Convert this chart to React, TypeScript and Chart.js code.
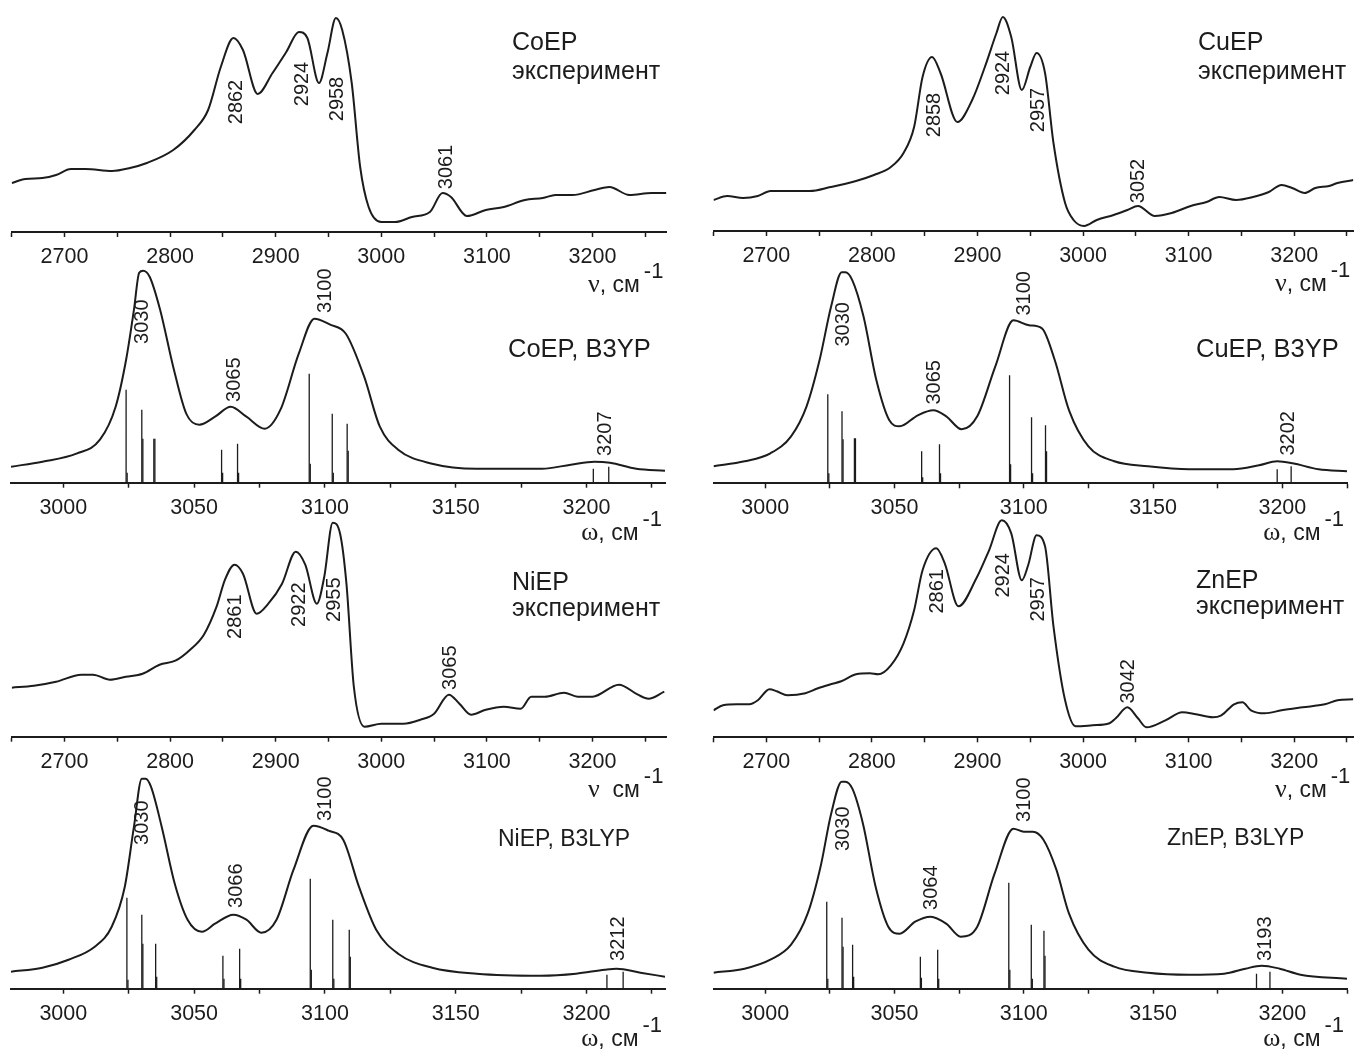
import React, { useEffect, useRef } from 'react';
import { Chart, registerables } from 'chart.js';

Chart.register(...registerables);

const SANS = '"Liberation Sans", Arial, Helvetica, sans-serif';
const SERIF = '"Liberation Serif", "Times New Roman", serif';
const INK = '#1c1c1c';

// ---------------- Experimental spectra (wavenumber, intensity a.u.) ----------------
const coExpX = [2650, 2663, 2679, 2692, 2706, 2720, 2745, 2762, 2778, 2803, 2823, 2836, 2848, 2860, 2869, 2883, 2897, 2910, 2922, 2930, 2941, 2949, 2957, 2963, 2972, 2980, 2988, 3000, 3013, 3029, 3046, 3058, 3066, 3081, 3099, 3116, 3136, 3153, 3165, 3181, 3202, 3216, 3235, 3256, 3270];
const coExpY = [49, 53, 54, 57, 63, 63, 61, 64, 69, 82, 102, 122, 165, 194, 182, 138, 159, 180, 200, 194, 149, 179, 214, 202, 149, 65, 25, 10, 10, 15, 20, 39, 35, 16, 22, 25, 32, 34, 37, 37, 42, 45, 37, 39, 39];
const coExpPeaks = [2862, 2924, 2958, 3061];

const cuExpX = [2650, 2663, 2678, 2692, 2704, 2720, 2741, 2761, 2785, 2802, 2818, 2830, 2840, 2848, 2857, 2865, 2881, 2895, 2907, 2918, 2924, 2932, 2942, 2950, 2956, 2964, 2972, 2983, 2991, 3001, 3013, 3029, 3042, 3052, 3068, 3084, 3102, 3117, 3129, 3145, 3161, 3176, 3188, 3198, 3210, 3220, 3233, 3241, 3256];
const cuExpY = [31, 35, 33, 35, 40, 40, 40, 44, 50, 56, 64, 78, 104, 154, 174, 158, 109, 131, 164, 198, 214, 194, 141, 164, 178, 158, 88, 28, 11, 5, 11, 16, 21, 25, 15, 18, 25, 29, 34, 31, 34, 39, 46, 43, 38, 43, 45, 48, 51];
const cuExpPeaks = [2858, 2924, 2957, 3052];

const niExpX = [2650, 2671, 2692, 2716, 2727, 2743, 2758, 2774, 2790, 2805, 2819, 2832, 2844, 2852, 2861, 2869, 2882, 2893, 2906, 2919, 2928, 2939, 2946, 2954, 2961, 2967, 2974, 2984, 3000, 3021, 3037, 3050, 3064, 3074, 3085, 3099, 3116, 3132, 3142, 3155, 3173, 3186, 3200, 3225, 3243, 3253, 3268];
const niExpY = [49, 51, 55, 62, 62, 57, 60, 63, 72, 76, 87, 102, 130, 157, 172, 163, 123, 133, 153, 185, 172, 133, 160, 214, 203, 153, 50, 10, 13, 13, 17, 23, 42, 33, 22, 27, 30, 28, 40, 40, 44, 40, 40, 52, 42, 38, 45];
const niExpPeaks = [2861, 2922, 2955, 3065];

const znExpX = [2650, 2659, 2672, 2684, 2692, 2703, 2710, 2720, 2737, 2749, 2761, 2771, 2785, 2798, 2806, 2818, 2830, 2840, 2848, 2861, 2869, 2882, 2899, 2911, 2923, 2932, 2942, 2948, 2956, 2964, 2972, 2983, 2993, 3009, 3025, 3031, 3042, 3052, 3060, 3078, 3094, 3107, 3123, 3131, 3143, 3151, 3159, 3172, 3188, 3208, 3229, 3241, 3256];
const znExpY = [27, 32, 33, 33, 37, 48, 46, 42, 44, 49, 53, 56, 63, 64, 63, 72, 94, 127, 167, 189, 174, 131, 159, 187, 217, 204, 157, 172, 202, 191, 111, 37, 11, 12, 14, 19, 30, 19, 10, 17, 25, 23, 20, 22, 33, 35, 27, 24, 27, 30, 33, 37, 38];
const znExpPeaks = [2861, 2924, 2957, 3042];

// ---------------- Calculated spectra (B3LYP) ----------------
const coCalcX = [2980, 2992, 3005, 3014, 3020, 3024, 3027, 3029, 3030.5, 3033, 3037, 3042, 3047, 3052, 3058, 3064, 3070, 3077, 3083, 3090, 3096, 3102, 3108, 3115, 3121, 3128, 3141, 3158, 3183, 3194, 3203, 3209, 3219, 3230];
const coCalcY = [16, 21, 29, 43, 76, 123, 173, 210, 212, 206, 173, 116, 69, 58, 66, 76, 66, 54, 73, 129, 164, 158, 149, 106, 56, 33, 19, 14, 14, 18, 21, 20, 14, 12];
const coStickX = [3024, 3030, 3034.6, 3060.5, 3066.6, 3094, 3102.8, 3108.5, 3202.6, 3208.5];
const coStickY = [93, 73, 44, 33, 39, 109, 69, 59, 14, 16];
const coStick2X = [3024.4, 3030.4, 3035, 3060.9, 3067, 3094.4, 3103.2, 3108.9];
const coStick2Y = [10, 44, 44, 10, 10, 19, 10, 32];
const coCalcPeaks = [3030, 3065, 3100, 3207];

const cuCalcX = [2980, 2992, 3002, 3010, 3016, 3021, 3025.5, 3029.6, 3031, 3033.7, 3038, 3043, 3048, 3052, 3059, 3065, 3070, 3076, 3082, 3089, 3096, 3102, 3107, 3112, 3117.5, 3125, 3135, 3148, 3164, 3181, 3191, 3198, 3204, 3214, 3225];
const cuCalcY = [17, 22, 30, 47, 77, 123, 177, 211, 211, 203, 167, 103, 63, 57, 68, 73, 67, 54, 67, 117, 163, 158, 155, 123, 73, 37, 22, 17, 14, 14, 18, 22, 20, 14, 12];
const cuStickX = [3024.2, 3029.7, 3034.5, 3060.5, 3067.4, 3094.5, 3103, 3108.4, 3198, 3203.4];
const cuStickY = [89, 72, 45, 32, 39, 108, 66, 58, 14, 17];
const cuStick2X = [3024.6, 3030.1, 3034.9, 3060.9, 3067.8, 3094.9, 3103.4, 3108.8];
const cuStick2Y = [10, 44, 45, 6, 10, 19, 10, 32];
const cuCalcPeaks = [3030, 3065, 3100, 3202];

const niCalcX = [2980, 2992, 3002, 3012, 3018.5, 3023.5, 3027, 3030, 3031.5, 3033.5, 3037.6, 3042.6, 3047.5, 3053, 3058, 3065, 3070, 3075.7, 3081.5, 3088, 3095.6, 3101.4, 3107, 3113, 3119.6, 3128, 3141, 3158, 3182.5, 3196, 3207, 3211.5, 3220.6, 3230];
const niCalcY = [17, 21, 29, 42, 62, 102, 162, 210, 210, 202, 162, 105, 69, 57, 65, 74, 69, 56, 69, 119, 163, 158, 149, 102, 59, 35, 21, 15, 13, 15, 19, 20, 16, 12];
const niStickX = [3024.3, 3030, 3035.3, 3061, 3067.4, 3094.4, 3103, 3109.3, 3207.8, 3214];
const niStickY = [91, 74, 45, 33, 40, 110, 69, 59, 14, 17];
const niStick2X = [3024.7, 3030.4, 3035.7, 3061.4, 3067.8, 3094.8, 3103.4, 3109.7];
const niStick2Y = [9, 45, 12, 10, 10, 19, 10, 32];
const niCalcPeaks = [3030, 3066, 3100, 3212];

const znCalcX = [2980, 2992, 3002, 3010, 3016.4, 3021.4, 3025.5, 3029.6, 3031, 3033.7, 3037.8, 3042.7, 3047.6, 3052, 3058, 3064, 3070, 3075.6, 3082, 3088.7, 3096, 3100, 3103.5, 3107.6, 3112.6, 3117.5, 3125, 3135, 3148, 3164, 3177.5, 3185.7, 3192, 3199, 3207, 3225];
const znCalcY = [16, 20, 29, 44, 75, 122, 175, 207, 207, 200, 165, 102, 62, 55, 67, 72, 65, 52, 62, 115, 160, 157, 157, 149, 119, 75, 39, 22, 16, 14, 15, 20, 23, 20, 14, 10];
const znStickX = [3023.8, 3029.7, 3033.8, 3060, 3066.7, 3094.2, 3102.9, 3107.8, 3190, 3195.2];
const znStickY = [87, 71, 44, 32, 39, 106, 64, 58, 15, 17];
const znStick2X = [3024.2, 3030.1, 3034.2, 3060.4, 3067.1, 3094.6, 3103.3, 3108.2];
const znStick2Y = [10, 42, 12, 11, 10, 19, 10, 33];
const znCalcPeaks = [3030, 3064, 3100, 3193];

// ---------------- Panel layout ----------------
type Title = { text: string; x: number; y: number; size: number };
type Panel = {
  key: string; left: number; top: number; width: number; height: number;
  axisY: number; padL: number; padR: number;
  xMin: number; xMax: number; tickStep: number; labelStep: number;
  curveX: number[]; curveY: number[];
  stickX?: number[]; stickY?: number[];
  stick2X?: number[]; stick2Y?: number[];
  peaks: number[]; peakLabelY: number[];
  titles: Title[];
  axisSym: string; axisSep: string; axisDy: number;
};

const PANELS: Panel[] = [
  {
    key: 'co-exp', left: 0, top: 0, width: 680, height: 300, axisY: 232, padL: 11.7, padR: 13.6,
    xMin: 2650, xMax: 3270, tickStep: 50, labelStep: 100,
    curveX: coExpX, curveY: coExpY, peaks: coExpPeaks, peakLabelY: [130, 148, 133, 65],
    titles: [{ text: 'CoEP', x: 512, y: 50, size: 25 }, { text: 'эксперимент', x: 512, y: 79, size: 25 }],
    axisSym: 'ν', axisSep: ', см', axisDy: 60,
  },
  {
    key: 'co-calc', left: 0, top: 255, width: 680, height: 290, axisY: 227.7, padL: 11, padR: 15,
    xMin: 2980, xMax: 3230, tickStep: 25, labelStep: 50,
    curveX: coCalcX, curveY: coCalcY, stickX: coStickX, stickY: coStickY, stick2X: coStick2X, stick2Y: coStick2Y,
    peaks: coCalcPeaks, peakLabelY: [161, 103, 192, 49],
    titles: [{ text: 'CoEP, B3YP', x: 508, y: 102, size: 25.5 }],
    axisSym: 'ω', axisSep: ', см', axisDy: 57,
  },
  {
    key: 'ni-exp', left: 0, top: 500, width: 680, height: 305, axisY: 236.7, padL: 11.7, padR: 13.6,
    xMin: 2650, xMax: 3270, tickStep: 50, labelStep: 100,
    curveX: niExpX, curveY: niExpY, peaks: niExpPeaks, peakLabelY: [120, 132, 137, 69],
    titles: [{ text: 'NiEP', x: 512, y: 90, size: 25 }, { text: 'эксперимент', x: 512, y: 116, size: 25 }],
    axisSym: 'ν', axisSep: '  см', axisDy: 60,
  },
  {
    key: 'ni-calc', left: 0, top: 760, width: 680, height: 290, axisY: 228.7, padL: 11, padR: 15,
    xMin: 2980, xMax: 3230, tickStep: 25, labelStep: 50,
    curveX: niCalcX, curveY: niCalcY, stickX: niStickX, stickY: niStickY, stick2X: niStick2X, stick2Y: niStick2Y,
    peaks: niCalcPeaks, peakLabelY: [166, 103, 190, 50],
    titles: [{ text: 'NiEP, B3LYP', x: 498, y: 86, size: 23 }],
    axisSym: 'ω', axisSep: ', см', axisDy: 57,
  },
  {
    key: 'cu-exp', left: 680, top: 0, width: 674, height: 300, axisY: 231, padL: 33.5, padR: 0,
    xMin: 2650, xMax: 3256, tickStep: 50, labelStep: 100,
    curveX: cuExpX, curveY: cuExpY, peaks: cuExpPeaks, peakLabelY: [116, 158, 121, 50],
    titles: [{ text: 'CuEP', x: 518, y: 50, size: 25 }, { text: 'эксперимент', x: 518, y: 79, size: 25 }],
    axisSym: 'ν', axisSep: ', см', axisDy: 60,
  },
  {
    key: 'cu-calc', left: 680, top: 255, width: 674, height: 290, axisY: 228.3, padL: 33.5, padR: 0,
    xMin: 2980, xMax: 3225, tickStep: 25, labelStep: 50,
    curveX: cuCalcX, curveY: cuCalcY, stickX: cuStickX, stickY: cuStickY, stick2X: cuStick2X, stick2Y: cuStick2Y,
    peaks: cuCalcPeaks, peakLabelY: [159, 101, 190, 50],
    titles: [{ text: 'CuEP, B3YP', x: 516, y: 102, size: 25.5 }],
    axisSym: 'ω', axisSep: ', см', axisDy: 57,
  },
  {
    key: 'zn-exp', left: 680, top: 500, width: 674, height: 305, axisY: 237.3, padL: 33.5, padR: 0,
    xMin: 2650, xMax: 3256, tickStep: 50, labelStep: 100,
    curveX: znExpX, curveY: znExpY, peaks: znExpPeaks, peakLabelY: [146, 162, 138, 56],
    titles: [{ text: 'ZnEP', x: 516, y: 88, size: 25 }, { text: 'эксперимент', x: 516, y: 114, size: 25 }],
    axisSym: 'ν', axisSep: ', см', axisDy: 60,
  },
  {
    key: 'zn-calc', left: 680, top: 760, width: 674, height: 290, axisY: 228.7, padL: 33.5, padR: 0,
    xMin: 2980, xMax: 3225, tickStep: 25, labelStep: 50,
    curveX: znCalcX, curveY: znCalcY, stickX: znStickX, stickY: znStickY, stick2X: znStick2X, stick2Y: znStick2Y,
    peaks: znCalcPeaks, peakLabelY: [160, 101, 189, 50],
    titles: [{ text: 'ZnEP, B3LYP', x: 487, y: 85, size: 23 }],
    axisSym: 'ω', axisSep: ', см', axisDy: 57,
  },
];

function makeTicks(min: number, max: number, step: number) {
  const t: { value: number }[] = [];
  for (let v = Math.ceil(min / step) * step; v <= max + 1e-6; v += step) t.push({ value: v });
  return t;
}

function stickData(xs: number[], ys: number[]) {
  return xs.flatMap((x, i) => [{ x, y: 0 }, { x, y: ys[i] }, { x, y: null }]);
}

function ChartPanel({ p }: { p: Panel }) {
  const ref = useRef<HTMLCanvasElement>(null);
  useEffect(() => {
    const canvas = ref.current;
    if (!canvas) return;
    const datasets: any[] = [
      {
        type: 'line',
        data: p.curveX.map((x, i) => ({ x, y: p.curveY[i] })),
        borderColor: INK,
        borderWidth: 2,
        pointRadius: 0,
        cubicInterpolationMode: 'monotone',
        fill: false,
      },
    ];
    if (p.stickX && p.stickY) {
      datasets.push({
        type: 'line',
        data: stickData(p.stickX, p.stickY),
        borderColor: INK,
        borderWidth: 1.3,
        pointRadius: 0,
        tension: 0,
        spanGaps: false,
        fill: false,
      });
    }
    if (p.stick2X && p.stick2Y) {
      datasets.push({
        type: 'line',
        data: stickData(p.stick2X, p.stick2Y),
        borderColor: INK,
        borderWidth: 1.3,
        pointRadius: 0,
        tension: 0,
        spanGaps: false,
        fill: false,
      });
    }

    const annot = {
      id: 'annot',
      afterDraw(chart: any) {
        const { ctx, chartArea } = chart;
        const xs = chart.scales.x;
        const ys = chart.scales.y;
        ctx.save();
        ctx.fillStyle = INK;
        // peak labels (rotated)
        ctx.font = `20px ${SANS}`;
        ctx.textAlign = 'center';
        ctx.textBaseline = 'middle';
        p.peaks.forEach((v, i) => {
          const px = xs.getPixelForValue(v);
          const py = ys.getPixelForValue(p.peakLabelY[i]);
          ctx.save();
          ctx.translate(px, py);
          ctx.rotate(-Math.PI / 2);
          ctx.fillText(String(v), 0, 1);
          ctx.restore();
        });
        // titles
        ctx.textAlign = 'left';
        ctx.textBaseline = 'alphabetic';
        p.titles.forEach((t) => {
          ctx.font = `${t.size}px ${SANS}`;
          ctx.fillText(t.text, t.x, t.y);
        });
        // axis title
        const base = chartArea.bottom + p.axisDy;
        const supRight = chartArea.right - 3;
        ctx.textAlign = 'right';
        ctx.font = `22px ${SANS}`;
        ctx.fillText('-1', supRight, base - 14);
        let x = supRight - ctx.measureText('-1').width - 4;
        ctx.font = `23px ${SANS}`;
        ctx.fillText(p.axisSep, x, base);
        x -= ctx.measureText(p.axisSep).width;
        ctx.font = `26px ${SERIF}`;
        ctx.fillText(p.axisSym, x, base);
        ctx.restore();
      },
    };

    const chart = new Chart(canvas, {
      type: 'line',
      data: { datasets },
      options: {
        animation: false,
        responsive: false,
        devicePixelRatio: 1,
        events: [],
        layout: { padding: { left: p.padL, right: p.padR, top: 0, bottom: 0 }, autoPadding: false },
        plugins: { legend: { display: false }, tooltip: { enabled: false }, title: { display: false } },
        scales: {
          x: {
            type: 'linear',
            min: p.xMin,
            max: p.xMax,
            offset: false,
            position: 'bottom',
            afterBuildTicks: (s: any) => {
              s.ticks = makeTicks(p.xMin, p.xMax, p.tickStep);
            },
            afterFit: (s: any) => {
              s.height = p.height - p.axisY;
            },
            grid: {
              display: true,
              drawOnChartArea: false,
              drawTicks: true,
              tickLength: 5,
              tickWidth: 1.5,
              tickColor: INK,
              color: INK,
              offset: false,
            },
            border: { display: true, color: INK, width: 2 },
            ticks: {
              autoSkip: false,
              maxRotation: 0,
              minRotation: 0,
              padding: 7,
              color: INK,
              font: { family: SANS, size: 21.5 },
              callback: (v: any) => (Math.abs(Number(v) % p.labelStep) < 1e-6 ? String(v) : ''),
            },
          },
          y: { type: 'linear', display: false, min: 0, max: p.axisY },
        },
      } as any,
      plugins: [annot],
    });
    return () => chart.destroy();
  }, [p]);
  return (
    <canvas
      ref={ref}
      width={p.width}
      height={p.height}
      style={{ position: 'absolute', left: p.left, top: p.top, width: p.width, height: p.height }}
    />
  );
}

export default function App() {
  return (
    <div style={{ position: 'absolute', left: 0, top: 0, width: 1354, height: 1050, background: '#fff', overflow: 'hidden' }}>
      {PANELS.map((p) => (
        <ChartPanel key={p.key} p={p} />
      ))}
    </div>
  );
}
